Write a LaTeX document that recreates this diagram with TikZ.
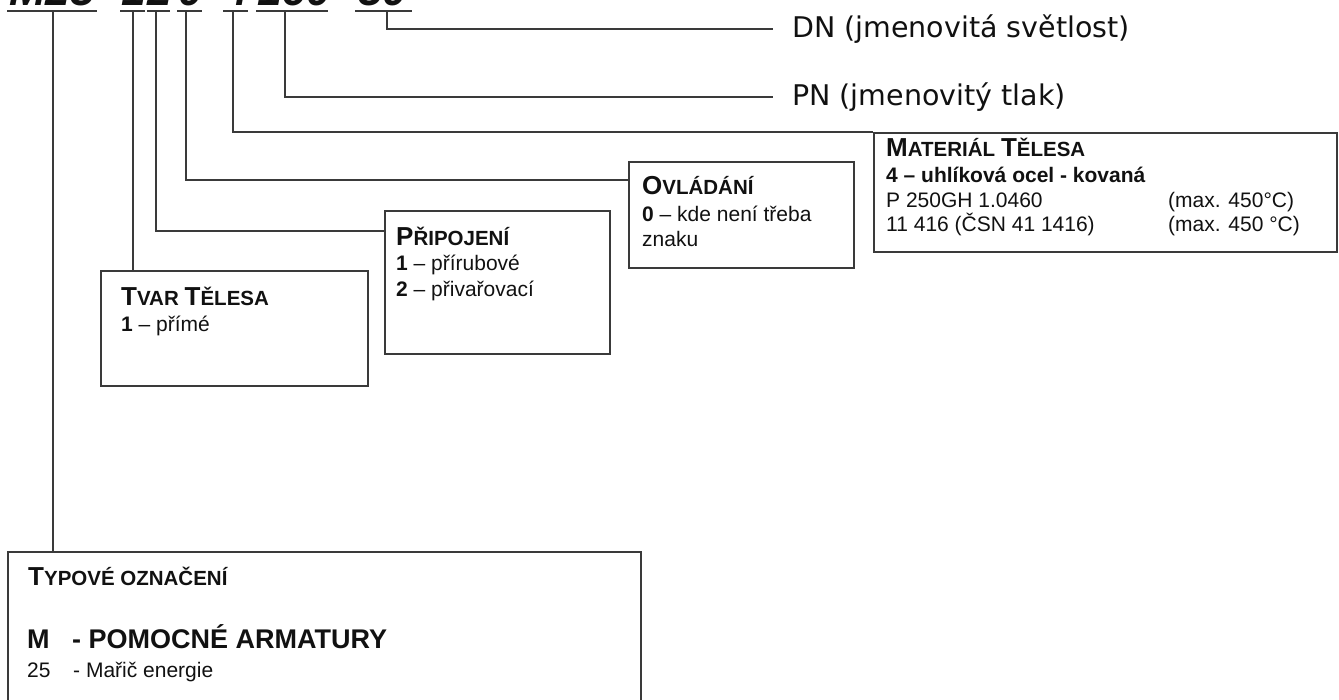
\documentclass[tikz,border=0pt]{standalone}
\usepackage{fontspec}
\setmainfont{Liberation Sans}
\newfontfamily\dejavu{DejaVu Sans}
\definecolor{lc}{HTML}{3A3A3A}
\definecolor{tc}{HTML}{111111}
\newcommand\hsc[2]{{\fontsize{26}{30}\selectfont #1}{\fontsize{20.5}{30}\selectfont #2}}
\begin{document}
\begin{tikzpicture}[x=1pt,y=-1pt,
  ln/.style={draw=lc, line width=1.8pt},
  box/.style={draw=lc, line width=1.8pt, anchor=north west, inner sep=0pt},
  txt/.style={anchor=base west, inner sep=0pt, text=tc, font=\fontsize{21}{25}\selectfont},
  hd/.style={anchor=base west, inner sep=0pt, text=tc, font=\fontsize{21}{25}\selectfont\bfseries},
  code/.style={anchor=base west, inner sep=0pt, text=tc, font=\fontsize{44}{48}\selectfont\bfseries\itshape},
  big/.style={anchor=base west, inner sep=0pt, text=tc, font=\dejavu\fontsize{28.5}{32}\selectfont}]
\useasboundingbox (0,0) rectangle (1339,700);

% boxes
\node[box, minimum width=267pt, minimum height=115pt] (tvar) at (100,270) {};
\node[box, minimum width=225pt, minimum height=143pt] (prip) at (384,210) {};
\node[box, minimum width=225pt, minimum height=106pt] (ovl) at (628,161) {};
\node[box, minimum width=463pt, minimum height=119pt] (mat) at (873,132) {};
\node[box, minimum width=633pt, minimum height=165pt] (typ) at (7,551) {};

% code
\node[code] (cM) at (9,6) {M25};
\node[code] (c1) at (121,6) {1};
\node[code] (c2) at (147,6) {2};
\node[code] (c3) at (178,6) {0};
\node[code] (c4) at (224,6) {4};
\node[code] (c5) at (257,6) {160};
\node[code] (c6) at (358,6) {50};

\draw[ln] (7,11) -- (97,11);
\draw[ln] (120,11) -- (145,11);
\draw[ln] (147,11) -- (170,11);
\draw[ln] (177,11) -- (202,11);
\draw[ln] (223,11) -- (248,11);
\draw[ln] (256,11) -- (328,11);
\draw[ln] (355,11) -- (412,11);

\coordinate (uM) at (53,11);
\coordinate (u1) at (133,11);
\coordinate (u2) at (156,11);
\coordinate (u3) at (186,11);
\coordinate (u4) at (233,11);
\coordinate (u5) at (285,11);
\coordinate (u6) at (387,11);
\coordinate (dnend) at (773,29);
\coordinate (pnend) at (773,97);

% right labels
\node[big] (dn) at (792,38) {DN (jmenovitá světlost)};
\node[big] (pn) at (792,106) {PN (jmenovitý tlak)};

% connectors
\draw[ln] (uM) -- (uM |- typ.north);
\draw[ln] (u1) -- (u1 |- tvar.north);
\draw[ln] (u2) |- ([yshift=-21pt]prip.north west);
\draw[ln] (u3) |- ([yshift=-19pt]ovl.north west);
\draw[ln] (u4) |- (mat.north west);
\draw[ln] (u5) |- (pnend);
\draw[ln] (u6) |- (dnend);

% TVAR
\node[hd] (tvarh) at (121,306) {\hsc{T}{VAR} \hsc{T}{ĚLESA}};
\node[txt] (tvar1) at (121,332) {\textbf{1} – přímé};

% PRIPOJENI
\node[hd] (priph) at (396,246) {\hsc{P}{ŘIPOJENÍ}};
\node[txt] (prip1) at (396,271) {\textbf{1} – přírubové};
\node[txt] (prip2) at (396,297) {\textbf{2} – přivařovací};

% OVLADANI
\node[hd] (ovlh) at (642,195) {\hsc{O}{VLÁDÁNÍ}};
\node[txt] (ovl1) at (642,222) {\textbf{0} – kde není třeba};
\node[txt] (ovl2) at (642,247) {znaku};

% MATERIAL
\node[hd] (math) at (886,157) {\hsc{M}{ATERIÁL} \hsc{T}{ĚLESA}};
\node[hd] (mat1) at (886,183) {4 – uhlíková ocel - kovaná};
\node[txt] (mat2) at (886,208) {P 250GH 1.0460};
\node[txt] (mat3) at (886,232) {11 416 (ČSN 41 1416)};
\node[txt] (mat2b) at (1168,208) {(max. 450°C)};
\node[txt] (mat3b) at (1168,232) {(max. 450 °C)};

% TYPOVE
\node[hd] (typh) at (28,585) {\hsc{T}{YPOVÉ OZNAČENÍ}};
\node[hd, font=\fontsize{27}{30}\selectfont\bfseries] (typM) at (27,648) {M};
\node[hd, font=\fontsize{27}{30}\selectfont\bfseries] (typMt) at (72,648) {- POMOCNÉ ARMATURY};
\node[txt] (typ25) at (27,677) {25};
\node[txt] (typ25t) at (73,677) {- Mařič energie};
\end{tikzpicture}
\end{document}
